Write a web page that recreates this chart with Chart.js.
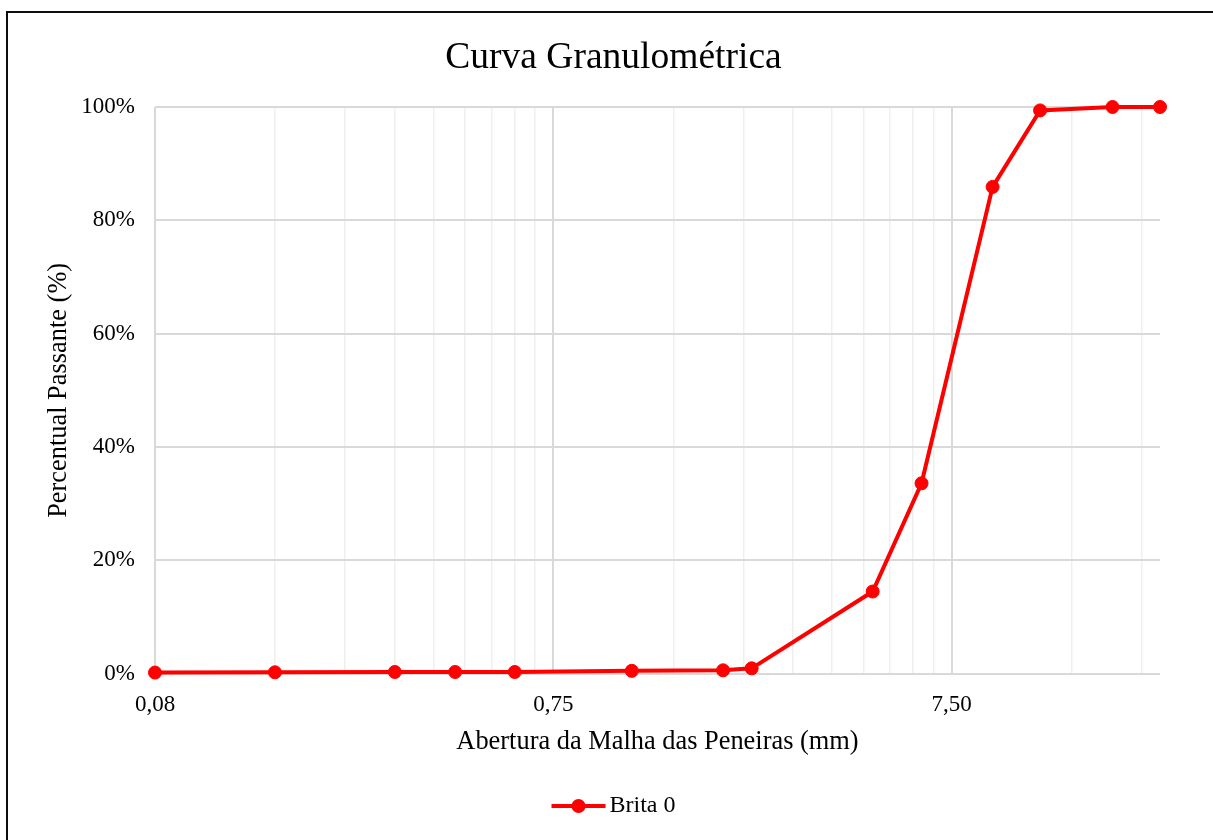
<!DOCTYPE html>
<html>
<head>
<meta charset="utf-8">
<script src="https://cdn.jsdelivr.net/npm/chart.js@4.4.1/dist/chart.umd.min.js"></script>
<style>
  html, body { margin: 0; padding: 0; background: #ffffff; }
  #wrap { position: relative; width: 1213px; height: 840px; }
</style>
</head>
<body>
<div id="wrap"><canvas id="c" width="1213" height="840"></canvas></div>
<script>
// ---- data ----
const chartTitle = 'Curva Granulométrica';
const seriesName = 'Brita 0';
const sieveOpenings = [0.075, 0.15, 0.3, 0.425, 0.6, 1.18, 2.0, 2.36, 4.75, 6.3, 9.5, 12.5, 19, 25];
const percentPassing = [0.2, 0.25, 0.3, 0.3, 0.3, 0.5, 0.6, 0.95, 14.5, 33.6, 85.9, 99.4, 100, 100];
const xMajorTicks = [0.075, 0.75, 7.5];
const xTickLabels = ['0,08', '0,75', '7,50'];
const xMinorMultipliers = [2, 3, 4, 5, 6, 7, 8, 9];
const yTicks = [0, 20, 40, 60, 80, 100];
const xAxisTitle = 'Abertura da Malha das Peneiras (mm)';
const yAxisTitle = 'Percentual Passante (%)';

const X_MIN = 0.075, X_MAX = 25;
const FONT = "'Liberation Serif', 'Times New Roman', serif";
const RED = '#ff0000';

const points = sieveOpenings.map((x, i) => ({ x: x, y: percentPassing[i] }));

const frame = {
  id: 'frame',
  beforeDraw(chart) {
    const ctx = chart.ctx;
    ctx.save();
    ctx.fillStyle = '#ffffff';
    ctx.fillRect(0, 0, chart.width, chart.height);
    ctx.fillStyle = '#0d0d0d';
    ctx.fillRect(6, 11, 2, chart.height - 11);
    ctx.fillRect(6, 11, chart.width - 6, 2);
    ctx.restore();
  }
};

const legendMarker = {
  id: 'legendMarker',
  afterDraw(chart) {
    const lg = chart.legend;
    if (!lg || !lg.legendHitBoxes || !lg.legendHitBoxes.length) return;
    const hb = lg.legendHitBoxes[0];
    const ctx = chart.ctx;
    const cy = hb.top + hb.height / 2;
    ctx.save();
    ctx.strokeStyle = RED;
    ctx.lineWidth = 4;
    ctx.beginPath();
    ctx.moveTo(hb.left, cy);
    ctx.lineTo(hb.left + 54, cy);
    ctx.stroke();
    ctx.fillStyle = RED;
    ctx.beginPath();
    ctx.arc(hb.left + 27, cy, 7, 0, Math.PI * 2);
    ctx.fill();
    ctx.restore();
  }
};

new Chart(document.getElementById('c'), {
  type: 'line',
  data: {
    datasets: [{
      label: seriesName,
      data: points,
      borderColor: RED,
      backgroundColor: RED,
      borderWidth: 4,
      pointRadius: 6.5,
      pointHoverRadius: 6.5,
      pointBackgroundColor: RED,
      pointBorderColor: RED,
      pointBorderWidth: 1,
      tension: 0,
      fill: false,
      clip: false
    }]
  },
  options: {
    responsive: false,
    animation: false,
    events: [],
    layout: { padding: { left: 14, right: 0, top: 0, bottom: 12 } },
    plugins: {
      title: {
        display: true,
        text: chartTitle,
        color: '#000000',
        font: { family: FONT, size: 37.5, weight: 'normal' },
        padding: { top: 36, bottom: 26 }
      },
      legend: {
        display: true,
        position: 'bottom',
        labels: {
          color: '#000000',
          font: { family: FONT, size: 24 },
          boxWidth: 46,
          boxHeight: 10,
          padding: 10,
          generateLabels(chart) {
            return chart.data.datasets.map((ds, i) => ({
              text: ds.label,
              fillStyle: 'rgba(0,0,0,0)',
              strokeStyle: 'rgba(0,0,0,0)',
              lineWidth: 0,
              hidden: false,
              datasetIndex: i,
              fontColor: '#000000'
            }));
          }
        }
      },
      tooltip: { enabled: false }
    },
    scales: {
      x: {
        type: 'logarithmic',
        position: 'bottom',
        min: X_MIN,
        max: X_MAX,
        afterBuildTicks(scale) {
          const ticks = [];
          xMajorTicks.forEach((m, i) => {
            ticks.push({ value: m, isMajor: true, lbl: xTickLabels[i] });
            xMinorMultipliers.forEach(k => {
              const v = m * k;
              if (v <= X_MAX * 1.0001) ticks.push({ value: v, isMajor: false, lbl: '' });
            });
          });
          scale.ticks = ticks;
        },
        afterFit(scale) { scale.height = 110.3; },
        ticks: {
          autoSkip: false,
          maxRotation: 0,
          padding: 17,
          color: '#000000',
          font: { family: FONT, size: 23 },
          callback(value, index, ticks) { return ticks[index] && ticks[index].isMajor ? ticks[index].lbl : ''; }
        },
        grid: {
          drawTicks: false,
          color(ctx) { return ctx.tick && ctx.tick.isMajor ? '#d9d9d9' : '#efefef'; },
          lineWidth(ctx) { return ctx.tick && ctx.tick.isMajor ? 2 : 1.5; }
        },
        border: { display: false },
        title: {
          display: true,
          text: xAxisTitle,
          color: '#000000',
          font: { family: FONT, size: 26.4 },
          padding: { top: 0, bottom: 26.2 }
        }
      },
      y: {
        type: 'linear',
        position: 'left',
        min: 0,
        max: 100,
        afterBuildTicks(scale) { scale.ticks = yTicks.map(v => ({ value: v })); },
        afterFit(scale) { scale.width = 141; },
        ticks: {
          padding: 20,
          color: '#000000',
          font: { family: FONT, size: 23 },
          callback(value) { return value + '%'; }
        },
        grid: { drawTicks: false, color: '#d9d9d9', lineWidth: 2 },
        border: { display: false },
        title: {
          display: true,
          text: yAxisTitle,
          color: '#000000',
          font: { family: FONT, size: 26.4 },
          padding: { top: 29.2, bottom: 0 }
        }
      },
      spacer: {
        type: 'linear',
        position: 'right',
        display: true,
        afterFit(scale) { scale.width = 53; },
        ticks: { display: false },
        grid: { display: false, drawTicks: false },
        border: { display: false }
      }
    }
  },
  plugins: [frame, legendMarker]
});
</script>
</body>
</html>
